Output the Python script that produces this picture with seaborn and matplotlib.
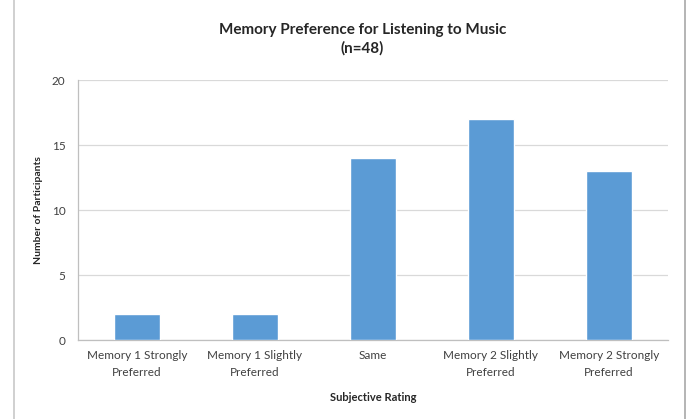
import matplotlib
matplotlib.use("Agg")
import matplotlib.pyplot as plt
from matplotlib.lines import Line2D
import seaborn as sns
import pandas as pd

categories = [
    "Memory 1 Strongly\nPreferred",
    "Memory 1 Slightly\nPreferred",
    "Same",
    "Memory 2 Slightly\nPreferred",
    "Memory 2 Strongly\nPreferred",
]
participants = [2, 2, 14, 17, 13]
y_ticks = [0, 5, 10, 15, 20]

sns.set_theme(style="white")
plt.rcParams["font.family"] = ["Lato", "DejaVu Sans"]

df = pd.DataFrame({"rating": categories, "count": participants})

fig = plt.figure(figsize=(6.9, 4.19), dpi=100)
ax = fig.add_axes([0.113, 0.1885, 0.855, 0.6205])

sns.barplot(data=df, x="rating", y="count", color="#5B9BD5", width=0.39,
            saturation=1, ax=ax, zorder=3)

ax.set_ylim(0, 20)
ax.set_yticks(y_ticks)
ax.set_xlim(-0.5, len(categories) - 0.5)
ax.yaxis.grid(True, color="#D9D9D9", linewidth=0.9, zorder=0)
ax.xaxis.grid(False)

for side in ["top", "right"]:
    ax.spines[side].set_visible(False)
for side in ["left", "bottom"]:
    ax.spines[side].set_color("#BFBFBF")
    ax.spines[side].set_linewidth(0.9)

ax.tick_params(axis="y", which="major", length=5, width=0.9, color="#BFBFBF",
               direction="out", labelsize=8.5, labelcolor="#404040", pad=4)
ax.tick_params(axis="x", which="major", length=0, labelsize=8.5,
               labelcolor="#404040", pad=7)
for lbl in ax.get_xticklabels():
    lbl.set_linespacing(1.75)
ax.set_xticks([i - 0.5 for i in range(len(categories) + 1)], minor=True)
ax.tick_params(axis="x", which="minor", length=5, width=0.9, color="#BFBFBF",
               direction="out")

ax.set_xlabel("Subjective Rating", fontsize=8, fontweight="bold",
              color="#262626", labelpad=10)
ax.set_ylabel("Number of Participants", fontsize=7.5, fontweight="bold",
              color="#262626", labelpad=6)

fig.text(0.525, 0.928, "Memory Preference for Listening to Music",
         ha="center", va="center", fontsize=11, fontweight="bold", color="#262626")
fig.text(0.525, 0.884, "(n=48)", ha="center", va="center", fontsize=11,
         fontweight="bold", color="#262626")

# outer chart frame edges
fig.add_artist(Line2D([0.021, 0.021], [0, 1], color="#C8C8C8", linewidth=1.2,
                      transform=fig.transFigure))
fig.add_artist(Line2D([0.993, 0.993], [0, 1], color="#A8A8A8", linewidth=1.2,
                      transform=fig.transFigure))

fig.savefig("out.png", dpi=100)
